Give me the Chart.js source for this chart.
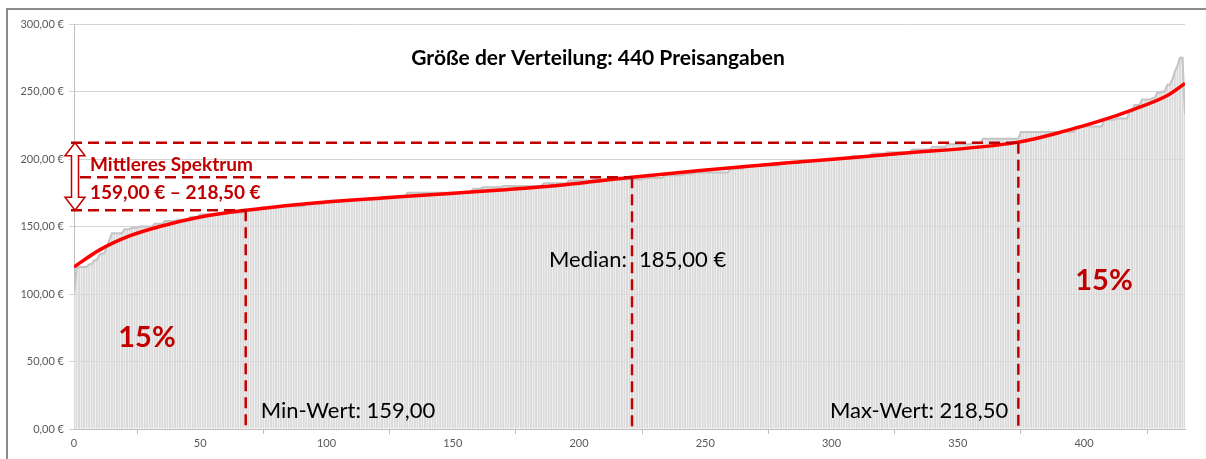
<!DOCTYPE html>
<html>
<head>
<meta charset="utf-8">
<script src="https://cdn.jsdelivr.net/npm/chart.js"></script>
<style>
  html, body { margin: 0; padding: 0; background: #fff; overflow: hidden; }
  #wrap { position: relative; width: 1206px; height: 459px; overflow: hidden; }
  #frame { position: absolute; left: 6px; top: 8px; width: 1400px; height: 700px;
           border-left: 2px solid #8c8c8c; border-top: 2px solid #8c8c8c; }
  canvas { position: absolute; left: 0; top: 0; }
</style>
</head>
<body>
<div id="wrap"><div id="frame"></div><canvas id="chart" width="1206" height="459"></canvas></div>
<script>
// sorted prices (price, how many entries)
const priceSteps = [100, 119, 120, 122, 125, 129, 130, 135, 140, 145, 148, 149, 150, 152, 154, 155, 157, 159, 160, 162,
                    164, 165, 167, 169, 170, 172, 175, 178, 179, 180, 182, 184, 185, 186, 188, 189, 190, 193, 195, 197,
                    199, 200, 202, 204, 205, 207, 209, 211, 212, 215, 220, 224, 229, 230, 235, 240, 244, 245, 249, 250,
                    255, 259, 265, 269, 275, 233];
const stepCounts = [1, 1, 4, 2, 2, 1, 2, 1, 1, 5, 3, 3, 6, 4, 5, 5, 4, 10, 8, 6,
                    8, 10, 8, 12, 10, 10, 26, 4, 8, 16, 10, 10, 20, 8, 8, 4, 14, 6, 14, 8,
                    12, 8, 8, 6, 10, 8, 6, 10, 4, 15, 22, 11, 5, 5, 2, 3, 4, 2, 2, 2,
                    2, 1, 1, 1, 2, 1];

// red trend line, read at a few positions
const trendIdx = [0, 10, 22, 34, 50, 68, 90, 109, 129, 149, 169, 189, 221, 248, 288, 327, 374, 393, 406, 420, 433, 440];
const trendVal = [120, 132.5, 143, 150, 157, 162, 166.5, 169.5, 172, 174.5, 177, 180, 186.5, 191.5, 198, 204, 212.5, 221, 228, 237, 247, 256];

// x axis labels stop at 400
const lastXTick = 400;

// annotation positions (index / price level as drawn)
const minIdx = 68, medianIdx = 221, maxIdx = 374;
const lowLevel = 162, midLevel = 186.5, highLevel = 212;

const prices = [];
priceSteps.forEach((p, k) => {
    for (let n = 0; n < stepCounts[k]; n++) prices.push(p);
});
const points = prices.map((v, i) => ({ x: i, y: v }));
const trend = trendIdx.map((t, k) => ({ x: t, y: trendVal[k] }));

const darkRed = '#c00000';

const annotations = {
    id: 'annotations',
    afterDatasetsDraw(chart) {
        const { ctx, scales: { x, y } } = chart;
        const xMin = x.getPixelForValue(minIdx);
        const xMed = x.getPixelForValue(medianIdx);
        const xMax = x.getPixelForValue(maxIdx);
        const yLow = y.getPixelForValue(lowLevel);
        const yMid = y.getPixelForValue(midLevel);
        const yHigh = y.getPixelForValue(highLevel);
        const yBase = y.getPixelForValue(0);
        const xArrow = x.getPixelForValue(0) + 1;

        ctx.save();
        ctx.strokeStyle = darkRed;
        ctx.lineWidth = 2.5;
        ctx.setLineDash([11, 6]);
        const seg = (x1, y1, x2, y2) => {
            ctx.beginPath(); ctx.moveTo(x1, y1); ctx.lineTo(x2, y2); ctx.stroke();
        };
        seg(xArrow - 4, yHigh, xMax, yHigh);
        seg(xArrow + 5, yMid, xMed, yMid);
        seg(xArrow - 4, yLow, xMin, yLow);
        seg(xMin, yLow, xMin, yBase);
        seg(xMed, yMid, xMed, yBase);
        seg(xMax, yHigh, xMax, yBase);
        ctx.setLineDash([]);

        // double arrow (outline)
        const hw = 10, sw = 3.5, hl = 13;
        ctx.lineWidth = 1.5;
        ctx.beginPath();
        ctx.moveTo(xArrow, yHigh);
        ctx.lineTo(xArrow + hw, yHigh + hl);
        ctx.lineTo(xArrow + sw, yHigh + hl);
        ctx.lineTo(xArrow + sw, yLow - hl);
        ctx.lineTo(xArrow + hw, yLow - hl);
        ctx.lineTo(xArrow, yLow);
        ctx.lineTo(xArrow - hw, yLow - hl);
        ctx.lineTo(xArrow - sw, yLow - hl);
        ctx.lineTo(xArrow - sw, yHigh + hl);
        ctx.lineTo(xArrow - hw, yHigh + hl);
        ctx.closePath();
        ctx.fillStyle = '#fff';
        ctx.fill();
        ctx.stroke();

        // texts
        ctx.textBaseline = 'alphabetic';
        ctx.fillStyle = '#000';
        ctx.textAlign = 'center';
        ctx.font = 'bold 21px Lato';
        ctx.fillText('Größe der Verteilung: 440 Preisangaben', 598, 65);

        ctx.textAlign = 'left';
        ctx.font = '22px Lato';
        ctx.fillText('Min-Wert: 159,00', xMin + 15, 418);
        ctx.textAlign = 'right';
        ctx.fillText('Max-Wert: 218,50', xMax - 10, 418);
        ctx.fillText('Median:', xMed - 5, 267);
        ctx.textAlign = 'left';
        ctx.fillText('185,00 €', xMed + 7, 267);

        ctx.fillStyle = darkRed;
        ctx.font = 'bold 19px Lato';
        ctx.fillText('Mittleres Spektrum', xArrow + 15, 171);
        ctx.fillText('159,00 € – 218,50 €', xArrow + 15, 199);

        ctx.font = 'bold 29px Lato';
        ctx.textAlign = 'center';
        ctx.fillText('15%', 147, 347);
        ctx.fillText('15%', 1104, 290);
        ctx.restore();
    }
};

new Chart(document.getElementById('chart'), {
    type: 'bar',
    data: {
        datasets: [
            {
                type: 'line',
                data: trend,
                borderColor: '#ff0000',
                borderWidth: 3.5,
                pointRadius: 0,
                cubicInterpolationMode: 'monotone',
                order: 1
            },
            {
                type: 'line',
                data: points,
                borderColor: '#c4c4c4',
                borderWidth: 2,
                pointRadius: 0,
                order: 2
            },
            {
                data: points,
                backgroundColor: '#dadada',
                barPercentage: 1,
                categoryPercentage: 0.78,
                order: 3
            }
        ]
    },
    options: {
        responsive: false,
        animation: false,
        layout: { padding: { top: 24, right: 21, left: 0, bottom: 0 } },
        plugins: { legend: { display: false }, tooltip: { enabled: false } },
        scales: {
            x: {
                type: 'linear',
                min: 0,
                max: 440,
                offset: false,
                afterFit: (s) => { s.height = 30; },
                afterBuildTicks: (s) => { s.ticks = s.ticks.filter(t => t.value <= lastXTick); },
                ticks: { stepSize: 50, color: '#595959', font: { family: 'Lato', size: 11 }, padding: 3, maxRotation: 0 },
                grid: { display: true, drawOnChartArea: false, tickLength: 5, color: '#bfbfbf' },
                border: { color: '#bfbfbf' }
            },
            y: {
                min: 0,
                max: 300,
                afterFit: (s) => { s.width = 74; },
                ticks: {
                    stepSize: 50, color: '#595959', font: { family: 'Lato', size: 11 }, padding: 5,
                    callback: (v) => v.toFixed(2).replace('.', ',') + ' €'
                },
                grid: { color: '#d4d4d4', tickLength: 5 },
                border: { color: '#bfbfbf' }
            }
        }
    },
    plugins: [annotations]
});
</script>
</body>
</html>
